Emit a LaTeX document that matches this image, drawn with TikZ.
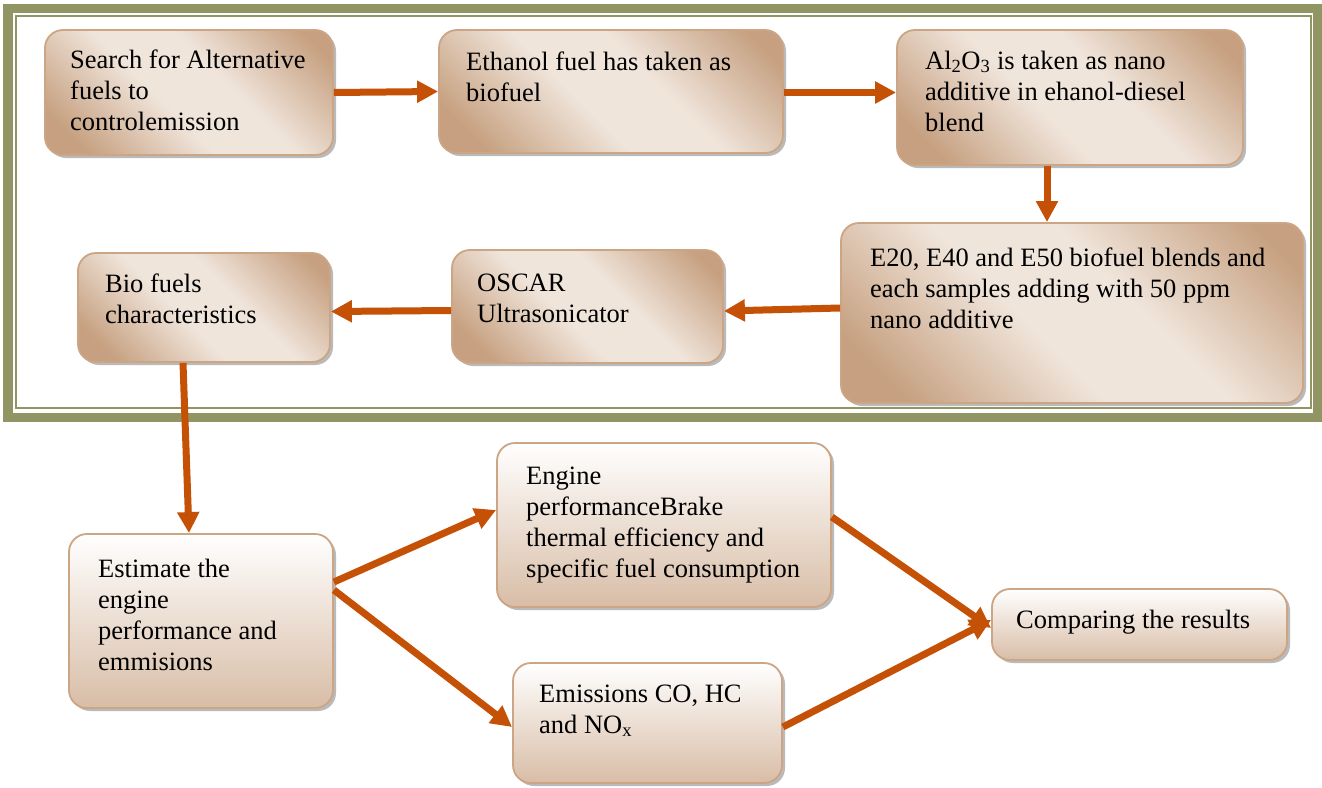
\documentclass[tikz,border=0pt]{standalone}
\usepackage{fontspec}
\setmainfont{Liberation Serif}
\usetikzlibrary{arrows.meta,shadows,fit,calc}
\definecolor{tanD}{RGB}{198,160,128}
\definecolor{tanL}{RGB}{240,229,219}
\definecolor{tanB}{RGB}{216,189,166}
\definecolor{edgec}{RGB}{203,165,132}
\definecolor{olivec}{RGB}{145,149,100}
\definecolor{arrowc}{RGB}{196,81,5}
\pgfdeclarehorizontalshading{tandiag}{100bp}{color(0bp)=(tanD); color(22bp)=(tanD); color(44bp)=(tanL); color(58bp)=(tanL); color(80bp)=(tanD); color(100bp)=(tanD)}
\pgfdeclareverticalshading{tanvert}{100bp}{color(0bp)=(tanB); color(25bp)=(tanB); color(75bp)=(white); color(100bp)=(white)}
\tikzset{
  box/.style={draw=edgec, line width=1.8pt, rounded corners=18pt, inner sep=0pt,
    drop shadow={shadow xshift=3pt, shadow yshift=-3pt, fill=black!45, opacity=0.6}},
  tbox/.style={box, shade, shading=tandiag, shading angle=45},
  wbox/.style={box, shade, shading=tanvert},
  txt/.style={align=left, inner sep=0pt, font=\fontsize{26.5}{31}\selectfont, anchor=base west},
  arr/.style={draw=arrowc, line width=7pt, -{Triangle[length=21pt,width=21pt]}},
  frameouter/.style={draw=olivec, line width=9.5pt},
  frameinner/.style={draw=olivec, line width=2pt}
}
\begin{document}
\begin{tikzpicture}[x=1pt,y=-1pt]
\useasboundingbox (0,0) rectangle (1322,787);
\fill[white] (0,0) rectangle (1322,787);
% double frame
\draw[frameouter] (8,8.3) rectangle (1317.5,417.5);
\draw[frameinner] (15.7,15.7) rectangle (1310.5,408);
% top-row boxes
\node[tbox, fit={(45,30) (333,155)}] (b1) {};
\node[tbox, fit={(439,30) (783,153)}] (b2) {};
\node[tbox, fit={(897,30) (1243,165)}] (b3) {};
\node[tbox, fit={(841,223) (1303,403)}] (b4) {};
\node[tbox, fit={(452,250) (723,363)}] (b5) {};
\node[tbox, fit={(78,253) (330,362)}] (b6) {};
% lower boxes
\node[wbox, fit={(69,534) (333,708)}] (b7) {};
\node[wbox, fit={(497,443) (831,607)}] (b8) {};
\node[wbox, fit={(513,663) (782,783)}] (b9) {};
\node[wbox, fit={(992,589) (1287,660)}] (b10) {};
% texts (anchored at the baseline of the last line)
\node[txt] (t1) at (70,130) {Search for Alternative\\fuels to\\controlemission};
\node[txt] (t2) at (466,101) {Ethanol fuel has taken as\\biofuel};
\node[txt] (t3) at (925,131) {Al\textsubscript{2}O\textsubscript{3} is taken as nano\\additive in ehanol-diesel\\blend};
\node[txt] (t4) at (870,328) {E20, E40 and E50 biofuel blends and\\each samples adding with 50 ppm\\nano additive};
\node[txt] (t5) at (477,322) {OSCAR\\Ultrasonicator};
\node[txt] (t6) at (105,323) {Bio fuels\\characteristics};
\node[txt] (t7) at (98,670) {Estimate the\\engine\\performance and\\emmisions};
\node[txt] (t8) at (526,577) {Engine\\performanceBrake\\thermal efficiency and\\specific fuel consumption};
\node[txt] (t9) at (539,733) {Emissions CO, HC\\and NO\textsubscript{x}};
\node[txt] (t10) at (1016,628) {Comparing the results};
% connectors
\draw[arr] (b1.east) -- (b2.west);
\draw[arr] ([yshift=-1pt]b2.east) -- ([yshift=-1pt]b2.east -| b3.west);
\draw[arr] ([xshift=-23pt]b3.south) -- ([xshift=-23pt]b3.south |- b4.north);
\draw[arr] ([yshift=5pt]b4.west) -- ([yshift=-4.5pt]b5.east);
\draw[arr] ([yshift=-4pt]b5.west) -- ([yshift=-4pt]b6.east);
\draw[arr] ([xshift=-21pt]b6.south) -- ([xshift=-12pt]b7.north);
\draw[arr] ([yshift=39pt]b7.east) -- ([yshift=15pt]b8.west);
\draw[arr] ([yshift=31pt]b7.east) -- ([yshift=-4pt]b9.west);
\draw[arr] ([yshift=8pt]b8.east) -- ([yshift=-3.5pt]b10.west);
\draw[arr] ([yshift=-4pt]b9.east) -- ([yshift=4.5pt]b10.west);
\end{tikzpicture}
\end{document}
